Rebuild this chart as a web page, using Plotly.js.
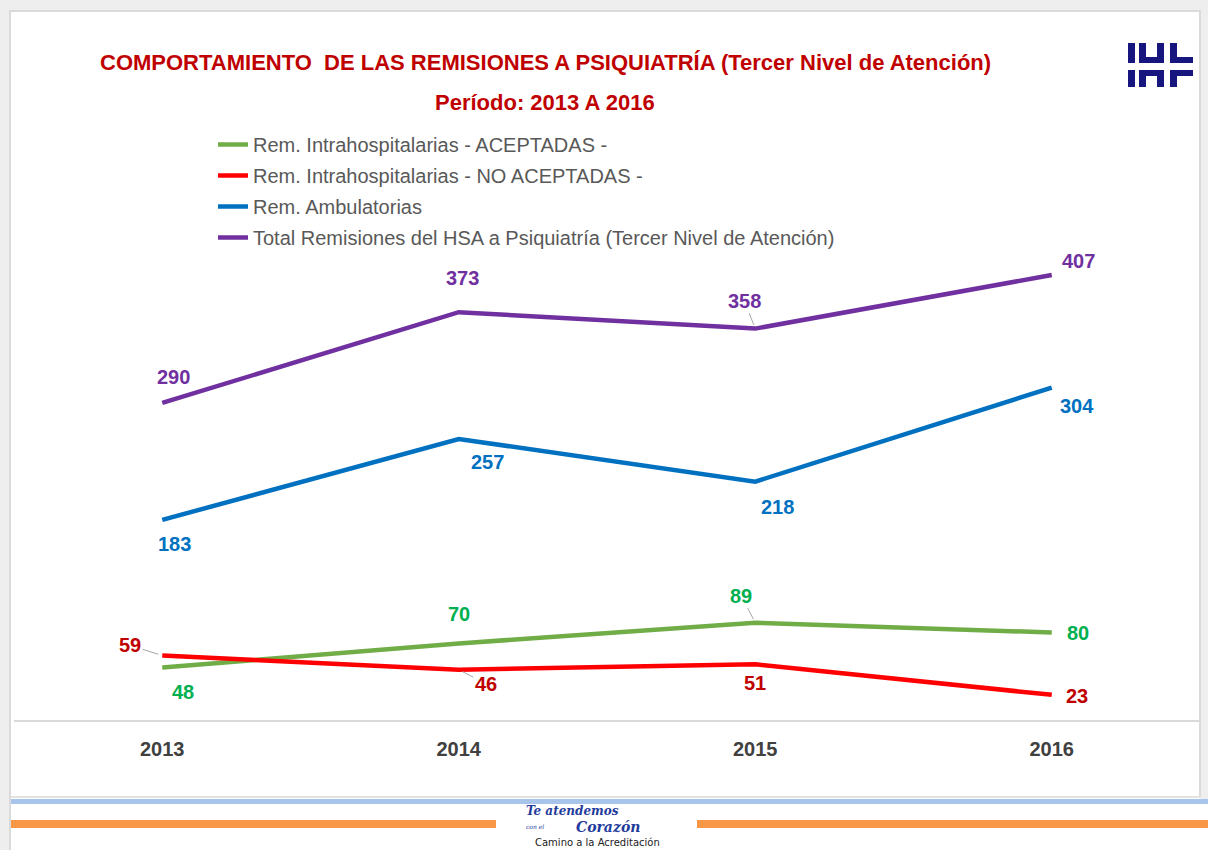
<!DOCTYPE html>
<html>
<head>
<meta charset="utf-8">
<script src="https://cdn.plot.ly/plotly-3.0.1.min.js"></script>
<style>html,body{margin:0;padding:0;background:#fff;}#chart{width:1208px;height:850px;}</style>
</head>
<body>
<div id="chart"></div>
<script>
// ---- data ----
const years = ['2013', '2014', '2015', '2016'];
const aceptadas = [48, 70, 89, 80];
const noAceptadas = [59, 46, 51, 23];
const ambulatorias = [183, 257, 218, 304];
const totalRemisiones = [290, 373, 358, 407];
const seriesNames = [
  'Rem. Intrahospitalarias - ACEPTADAS -',
  'Rem. Intrahospitalarias - NO ACEPTADAS -',
  'Rem. Ambulatorias',
  'Total Remisiones del HSA a Psiquiatría (Tercer Nivel de Atención)'
];
const titleLine1 = 'COMPORTAMIENTO  DE LAS REMISIONES A PSIQUIATRÍA (Tercer Nivel de Atención)';
const titleLine2 = 'Período: 2013 A 2016';

// ---- styling ----
const lineColors = ['#70AD47', '#FF0000', '#0070C0', '#7030A0'];
const labelColors = ['#00B050', '#C00000', '#0070C0', '#7030A0'];
const seriesData = [aceptadas, noAceptadas, ambulatorias, totalRemisiones];
// label offsets in screen pixels [dx, dy(down)], and whether a leader line is drawn
const labelOffsets = [
  [[21, 24, 0], [0, -29, 0], [-14, -27, 1], [26, 0, 0]],
  [[-32, -10, 1], [27, 14, 1], [0, 19, 0], [25, 1, 0]],
  [[12, 24, 0], [29, 23, 0], [22, 25, 0], [25, 18, 0]],
  [[11, -26, 0], [4, -34, 0], [-11, -28, 1], [27, -14, 0]]
];

const W = 1208, H = 850;
const M = {l: 14, r: 8, t: 228, b: 130};
const plotW = W - M.l - M.r, plotH = H - M.t - M.b;
const px = p => (p - M.l) / plotW;
const py = p => (H - M.b - p) / plotH;

const traces = seriesData.map((vals, k) => ({
  type: 'scatter', mode: 'lines', x: years, y: vals, name: seriesNames[k],
  legendgroup: 'g' + k,
  line: {color: lineColors[k], width: 4.5}, hoverinfo: 'x+y'
}));

const labelFont = (k) => ({family: '"Liberation Sans", Arial, sans-serif', size: 20, color: labelColors[k]});
const annotations = [];
seriesData.forEach((vals, k) => {
  vals.forEach((v, i) => {
    const [dx, dy, leader] = labelOffsets[k][i];
    const a = {x: i, y: v, xref: 'x', yref: 'y', text: '<b>' + v + '</b>', font: labelFont(k)};
    if (leader) {
      Object.assign(a, {showarrow: true, ax: dx, ay: dy, arrowhead: 0, arrowwidth: 1, arrowcolor: '#A6A6A6', standoff: 4});
    } else {
      Object.assign(a, {showarrow: false, xshift: dx, yshift: -dy});
    }
    annotations.push(a);
  });
});

const titleFont = {family: '"Liberation Sans", Arial, sans-serif', size: 22, color: '#C00000'};
annotations.push({xref: 'paper', yref: 'paper', x: px(545), y: py(62), text: '<b>' + titleLine1 + '</b>', showarrow: false, font: titleFont, xanchor: 'center', yanchor: 'middle'});
annotations.push({xref: 'paper', yref: 'paper', x: px(545), y: py(102), text: '<b>' + titleLine2 + '</b>', showarrow: false, font: titleFont, xanchor: 'center', yanchor: 'middle'});

// footer texts
const footBlue = '#1F3B9B';
annotations.push({xref: 'paper', yref: 'paper', x: px(572), y: py(811), text: '<b><i>Te atendemos</i></b>', showarrow: false,
  font: {family: '"DejaVu Serif", serif', size: 12, color: footBlue}, xanchor: 'center', yanchor: 'middle'});
annotations.push({xref: 'paper', yref: 'paper', x: px(535), y: py(826), text: '<i>con el</i>', showarrow: false,
  font: {family: '"DejaVu Serif", serif', size: 6, color: footBlue}, xanchor: 'center', yanchor: 'middle'});
annotations.push({xref: 'paper', yref: 'paper', x: px(608), y: py(827), text: '<b><i>Corazón</i></b>', showarrow: false,
  font: {family: '"DejaVu Serif", serif', size: 14, color: footBlue}, xanchor: 'center', yanchor: 'middle'});
annotations.push({xref: 'paper', yref: 'paper', x: px(597), y: py(842), text: 'Camino a la Acreditación', showarrow: false,
  font: {family: '"DejaVu Sans", sans-serif', size: 10, color: '#222222'}, xanchor: 'center', yanchor: 'middle'});

const rectPx = (x0, y0, x1, y1, fill, extra) => Object.assign({
  type: 'rect', xref: 'paper', yref: 'paper', x0: px(x0), x1: px(x1), y0: py(y0), y1: py(y1),
  fillcolor: fill, line: {width: 0}, layer: 'below'
}, extra || {});

const shapes = [
  // frame
  rectPx(0, 0, W, 10, '#EEEEEE'),
  rectPx(0, 0, 9, H, '#EEEEEE'),
  rectPx(1201, 0, W, 800, '#EEEEEE'),
  rectPx(9, 10, 11, H, '#DADADA'),
  rectPx(9, 10, 1201, 12, '#DADADA'),
  rectPx(1199, 10, 1201, 798, '#DADADA'),
  rectPx(11, 796, 1201, 798, '#E3E3E3'),
  // footer bands
  rectPx(11, 799, W, 804, '#A9C4EB'),
  rectPx(11, 820, 496, 828, '#F79646'),
  rectPx(697, 820, W, 828, '#F79646')
];

// logo (IHF style) in navy
const navy = '#16167E';
const logoRects = [
  [1128, 43, 1135, 63], [1139, 43, 1146, 63], [1157, 43, 1164, 63], [1139, 57, 1164, 63],
  [1170, 43, 1177, 63], [1170, 57, 1193, 63],
  [1128, 70, 1135, 87], [1139, 70, 1146, 87], [1157, 70, 1164, 87], [1139, 70, 1164, 76],
  [1170, 70, 1177, 87], [1170, 70, 1193, 76]
];
logoRects.forEach(r => shapes.push(rectPx(r[0], r[1], r[2], r[3], navy, {layer: 'above'})));

const layout = {
  width: W, height: H,
  margin: M,
  paper_bgcolor: '#FFFFFF', plot_bgcolor: 'rgba(0,0,0,0)',
  showlegend: true,
  legend: {x: px(213), y: py(125), xanchor: 'left', yanchor: 'top', bgcolor: 'rgba(0,0,0,0)',
    font: {family: '"Liberation Sans", Arial, sans-serif', size: 20, color: '#595959'}, tracegroupgap: 2},
  xaxis: {type: 'category', range: [-0.5, 3.5], showgrid: false, zeroline: false, showline: true,
    linecolor: '#D9D9D9', linewidth: 2, ticks: '', fixedrange: true,
    tickfont: {family: '"Liberation Sans", Arial, sans-serif', size: 20, color: '#404040'},
    ticklabelstandoff: 10, tickprefix: '<b>', ticksuffix: '</b>'},
  yaxis: {range: [0, 450], showgrid: false, zeroline: false, showline: false, showticklabels: false, ticks: '', fixedrange: true},
  annotations: annotations,
  shapes: shapes
};

Plotly.newPlot('chart', traces, layout, {displayModeBar: false, staticPlot: true});
</script>
</body>
</html>
